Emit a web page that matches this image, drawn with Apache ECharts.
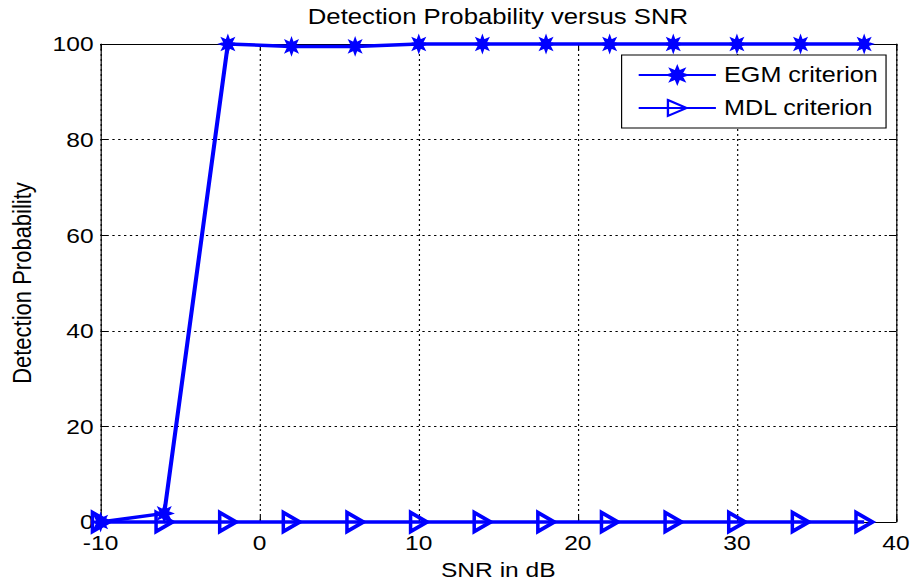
<!DOCTYPE html>
<html><head><meta charset="utf-8">
<script src="https://cdn.jsdelivr.net/npm/echarts@6/dist/echarts.min.js"></script>
<style>
html,body{margin:0;padding:0;background:#fff;overflow:hidden;width:916px;height:585px}
#c{width:783px;height:585px;transform:scaleX(1.17);transform-origin:0 0}
</style>
</head><body><div id="c"></div>
<script>
const snr = [-10, -6, -2, 2, 6, 10, 14, 18, 22, 26, 30, 34, 38];
const egm = [0, 1.8, 100, 99.5, 99.5, 100, 100, 100, 100, 100, 100, 100, 100];
const mdl = [0, 0, 0, 0, 0, 0, 0, 0, 0, 0, 0, 0, 0];
const xTicks = [-10, 0, 10, 20, 30, 40];
const yTicks = [0, 20, 40, 60, 80, 100];

const FONT = '"Liberation Sans", Arial, sans-serif';
const BLUE = '#0000ff';
const starPath = 'path://M10,0 L4.6,1.9 L7.07,7.07 L1.9,4.6 L0,10 L-1.9,4.6 L-7.07,7.07 L-4.6,1.9 L-10,0 L-4.6,-1.9 L-7.07,-7.07 L-1.9,-4.6 L0,-10 L1.9,-4.6 L7.07,-7.07 L4.6,-1.9 Z';
const triPath = 'path://M0,0 L14,10 L0,20 Z';

const chart = echarts.init(document.getElementById('c'), null, {renderer: 'svg'});
const lineAx = {show: true, onZero: false, lineStyle: {color: '#000', width: 1}};
const tickAx = {show: true, inside: true, length: 6, lineStyle: {color: '#000'}};
const gridLine = {show: true, lineStyle: {color: '#000', type: [2, 3], width: 1}};
chart.setOption({
  animation: false,
  backgroundColor: '#fff',
  title: {
    text: 'Detection Probability versus SNR',
    left: 425.6, top: 5, textAlign: 'center', padding: 0,
    textStyle: {fontFamily: FONT, fontWeight: 'normal', fontSize: 22, color: '#000'}
  },
  grid: {left: 85.5, right: 17.2, top: 44, bottom: 62.5, containLabel: false},
  legend: {
    right: 25.7, top: 55,
    orient: 'vertical', align: 'left',
    itemWidth: 66, itemHeight: 20, itemGap: 11,
    padding: [9, 7, 9, 13.6],
    borderColor: '#000', borderWidth: 1, backgroundColor: '#fff', borderRadius: 0,
    textStyle: {fontFamily: FONT, fontSize: 21.5, color: '#000', padding: [0, 0, 0, 2]},
    data: ['EGM criterion', 'MDL criterion']
  },
  xAxis: [{
    type: 'value', min: xTicks[0], max: xTicks[xTicks.length - 1], interval: 10, position: 'bottom',
    axisLine: lineAx, axisTick: tickAx,
    axisLabel: {fontFamily: FONT, fontSize: 21, lineHeight: 16, color: '#000', margin: 13},
    splitLine: gridLine,
    name: 'SNR in dB', nameLocation: 'middle', nameGap: 37,
    nameTextStyle: {fontFamily: FONT, fontSize: 21, color: '#000'}
  }, {
    type: 'value', min: xTicks[0], max: xTicks[xTicks.length - 1], interval: 10, position: 'top',
    axisLine: lineAx, axisTick: tickAx,
    axisLabel: {show: false}, splitLine: {show: false}
  }],
  yAxis: [{
    type: 'value', min: yTicks[0], max: yTicks[yTicks.length - 1], interval: 20, position: 'left',
    axisLine: lineAx, axisTick: tickAx,
    axisLabel: {fontFamily: FONT, fontSize: 21, lineHeight: 16, color: '#000', margin: 6},
    splitLine: gridLine,
    name: 'Detection Probability', nameLocation: 'middle', nameGap: 56,
    nameTextStyle: {fontFamily: FONT, fontSize: 22, color: '#000'}
  }, {
    type: 'value', min: yTicks[0], max: yTicks[yTicks.length - 1], interval: 20, position: 'right',
    axisLine: lineAx, axisTick: tickAx,
    axisLabel: {show: false}, splitLine: {show: false}
  }],
  series: [{
    name: 'EGM criterion', type: 'line',
    data: snr.map((x, i) => [x, egm[i]]),
    symbol: starPath, symbolSize: [14, 16], showAllSymbol: true, clip: false,
    lineStyle: {color: BLUE, width: 3.5},
    itemStyle: {color: BLUE, borderColor: BLUE, borderWidth: 1.5}
  }, {
    name: 'MDL criterion', type: 'line',
    data: snr.map((x, i) => [x, mdl[i]]),
    symbol: triPath, symbolSize: [14, 19], showAllSymbol: true, clip: false,
    lineStyle: {color: BLUE, width: 3.5},
    itemStyle: {color: 'rgba(0,0,0,0)', borderColor: BLUE, borderWidth: 3.5}
  }]
});
</script></body></html>
